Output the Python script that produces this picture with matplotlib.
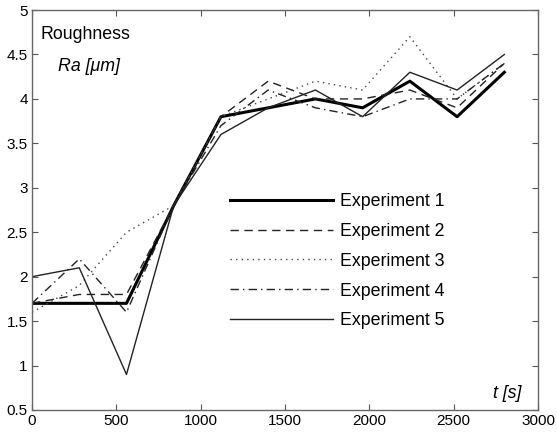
import matplotlib
matplotlib.use("Agg")
import matplotlib.pyplot as plt

plt.rcParams['font.family'] = ['Liberation Sans', 'DejaVu Sans']

# time points [s]
t = [0, 280, 560, 840, 1120, 1400, 1680, 1960, 2240, 2520, 2800]

# roughness Ra [um] per experiment
exp1 = [1.7, 1.7, 1.7, 2.8, 3.8, 3.9, 4.0, 3.9, 4.2, 3.8, 4.3]
exp2 = [1.7, 1.8, 1.8, 2.8, 3.8, 4.2, 4.0, 4.0, 4.1, 3.9, 4.4]
exp3 = [1.6, 1.9, 2.5, 2.8, 3.8, 4.0, 4.2, 4.1, 4.7, 4.0, 4.4]
exp4 = [1.7, 2.2, 1.6, 2.8, 3.7, 4.1, 3.9, 3.8, 4.0, 4.0, 4.4]
exp5 = [2.0, 2.1, 0.9, 2.8, 3.6, 3.9, 4.1, 3.8, 4.3, 4.1, 4.5]

labels = ["Experiment 1", "Experiment 2", "Experiment 3", "Experiment 4", "Experiment 5"]

fig = plt.figure(figsize=(5.57, 4.37), dpi=100)
ax = fig.add_axes([0.0575, 0.0618, 0.9085, 0.9152])

ax.plot(t, exp1, color='black', linewidth=2.2, linestyle='-', label=labels[0])
ax.plot(t, exp2, color='#222222', linewidth=1.0, linestyle=(0, (6, 4)), label=labels[1])
ax.plot(t, exp3, color='#444444', linewidth=1.0, linestyle=(0, (1, 3)), label=labels[2])
ax.plot(t, exp4, color='#222222', linewidth=1.0, linestyle=(0, (6, 3, 1, 3)), label=labels[3])
ax.plot(t, exp5, color='#222222', linewidth=1.0, linestyle='-', label=labels[4])

ax.set_xlim(0, 3000)
ax.set_ylim(0.5, 5)
ax.set_xticks([0, 500, 1000, 1500, 2000, 2500, 3000])
ax.set_yticks([0.5, 1, 1.5, 2, 2.5, 3, 3.5, 4, 4.5, 5])
ax.set_yticklabels(['0.5', '1', '1.5', '2', '2.5', '3', '3.5', '4', '4.5', '5'])
ax.tick_params(direction='in', top=True, right=True, length=4, width=0.8,
               labelsize=11, color='#555555', pad=3)
for s in ax.spines.values():
    s.set_color('#666666')
    s.set_linewidth(1.0)

ax.text(0.016, 0.94, "Roughness", transform=ax.transAxes, fontsize=12.8, va='center', ha='left')
ax.text(0.051, 0.86, "Ra [\u03bcm]", transform=ax.transAxes, fontsize=12.8, va='center',
        ha='left', style='italic')
ax.text(0.967, 0.04, "t [s]", transform=ax.transAxes, fontsize=12.8, va='center',
        ha='right', style='italic')

ax.legend(loc='center left', bbox_to_anchor=(0.391, 0.372), frameon=False,
          fontsize=12.8, handlelength=5.8, handletextpad=0.4, labelspacing=0.72,
          borderpad=0, borderaxespad=0)

fig.savefig("out.png", dpi=100)
